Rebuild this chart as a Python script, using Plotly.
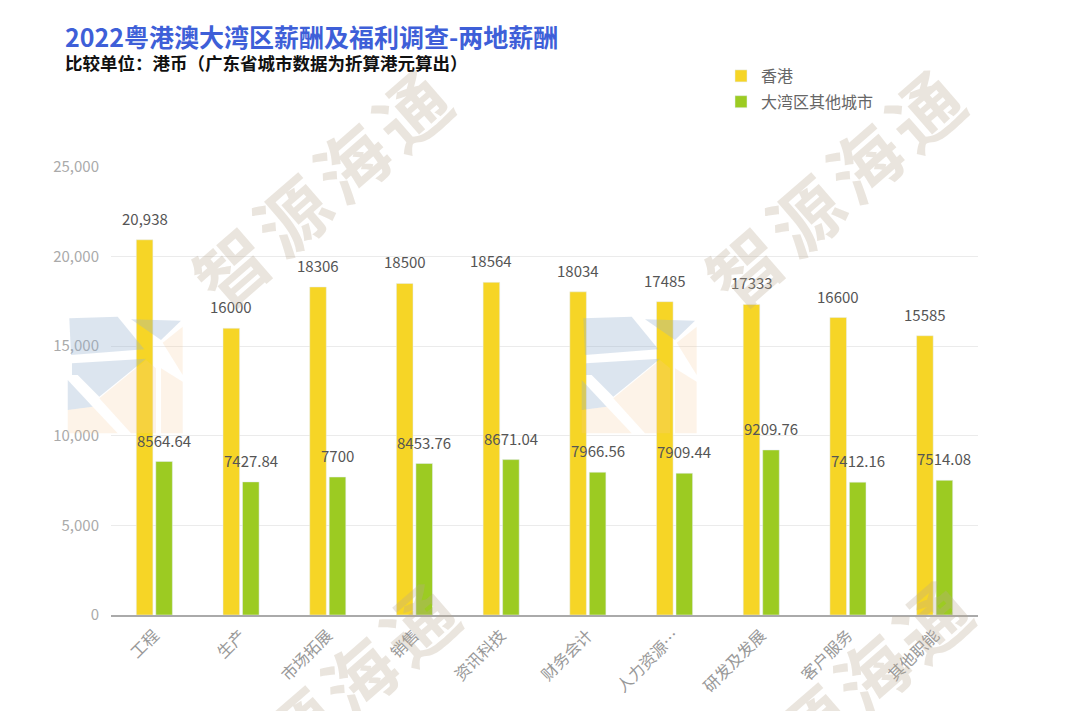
import plotly.graph_objects as go

categories = ["工程", "生产", "市场拓展", "销售", "资讯科技", "财务会计", "人力资源…", "研发及发展", "客户服务", "其他职能"]
hk_values = [20938, 16000, 18306, 18500, 18564, 18034, 17485, 17333, 16600, 15585]
gba_values = [8564.64, 7427.84, 7700, 8453.76, 8671.04, 7966.56, 7909.44, 9209.76, 7412.16, 7514.08]
hk_labels = ["20,938", "16000", "18306", "18500", "18564", "18034", "17485", "17333", "16600", "15585"]
gba_labels = ["8564.64", "7427.84", "7700", "8453.76", "8671.04", "7966.56", "7909.44", "9209.76", "7412.16", "7514.08"]
series_names = ["香港", "大湾区其他城市"]
y_ticks = [0, 5000, 10000, 15000, 20000, 25000]

W, H = 1080, 711
OFF = 8  # page body margin
ML, MT = 111 - OFF, 167 - OFF
PW, PH = 867, 448
MR = W - ML - PW
MB = H - MT - PH

def px(x):  # screenshot pixel -> paper
    return (x - OFF - ML) / PW

def py(y):
    return (MT + PH - (y - OFF)) / PH

FONT = "Noto Sans CJK SC"
YELLOW = "#F6D526"
GREEN = "#9CCB22"

fig = go.Figure()
fig.add_trace(go.Bar(name=series_names[0], x=categories, y=hk_values, marker_color=YELLOW, legendgroup="a"))
fig.add_trace(go.Bar(name=series_names[1], x=categories, y=gba_values, marker_color=GREEN, legendgroup="b"))

annotations = []
for i, c in enumerate(categories):
    annotations.append(dict(x=c, y=hk_values[i], text=hk_labels[i], xref="x", yref="y",
                            showarrow=False, yanchor="bottom", xshift=-9.75, yshift=9,
                            font=dict(family=FONT, size=15, color="#555555")))
    annotations.append(dict(x=c, y=gba_values[i], text=gba_labels[i], xref="x", yref="y",
                            showarrow=False, yanchor="bottom", xshift=9.75, yshift=9,
                            font=dict(family=FONT, size=15, color="#555555")))

# title & subtitle
annotations.append(dict(text="<b>2022粤港澳大湾区薪酬及福利调查-两地薪酬</b>", x=px(63), y=py(36),
                        xref="paper", yref="paper", xanchor="left", yanchor="middle", showarrow=False,
                        font=dict(family=FONT, size=25, color="#3E5FD8")))
annotations.append(dict(text="<b>比较单位：港币（广东省城市数据为折算港元算出）</b>", x=px(63), y=py(63),
                        xref="paper", yref="paper", xanchor="left", yanchor="middle", showarrow=False,
                        font=dict(family=FONT, size=17.5, color="#111111")))

# watermark text
wm_chars = ["智", "源", "海", "通"]
wm_starts = [(230, 265), (743, 265), (237, 778), (750, 775)]
for sx, sy in wm_starts:
    for k, ch in enumerate(wm_chars):
        annotations.append(dict(text="<b>" + ch + "</b>", x=px(sx + 60 * k), y=py(sy - 52 * k),
                                xref="paper", yref="paper", xanchor="center", yanchor="middle",
                                showarrow=False, textangle=-41,
                                font=dict(family=FONT, size=72, color="rgba(185,170,145,0.30)")))

# logo shapes (decorative watermark), coordinates in px relative to logo box
logo_blue = [
    [(1.3, 1.3), (49.7, -0.3), (76.3, 32.3), (3, 38)],
    [(63, 2.3), (113, 3.7), (93, 23)],
    [(4, 46.3), (78, 41.7), (31.3, 79.7), (9.7, 58), (4, 58)],
    [(-0.3, 63), (24.7, 89.7), (-0.3, 93)],
]
logo_orange = [
    [(94.7, 25.7), (114.7, 9.7), (114.7, 58)],
    [(31.3, 81.3), (78, 43), (88, 51.3), (88, 116.3), (63, 116.3)],
    [(93, 51.3), (114.7, 64.7), (114.7, 116.3), (93, 116.3)],
    [(-0.3, 93), (24.7, 89.7), (49.7, 116.3), (-0.3, 116.3)],
]
shapes = []
for ox in (68, 582):
    oy = 317
    for polys, col in ((logo_blue, "rgba(150,175,205,0.33)"), (logo_orange, "rgba(245,200,150,0.22)")):
        for poly in polys:
            pts = [(px(ox + u), py(oy + v)) for u, v in poly]
            path = "M " + " L ".join(f"{a:.4f},{b:.4f}" for a, b in pts) + " Z"
            shapes.append(dict(type="path", path=path, xref="paper", yref="paper",
                               fillcolor=col, line=dict(width=0), layer="above"))

fig.update_layout(
    width=W, height=H,
    margin=dict(l=ML, r=MR, t=MT, b=MB, autoexpand=False),
    paper_bgcolor="white", plot_bgcolor="white",
    barmode="group", bargap=0.55, bargroupgap=0.15,
    font=dict(family=FONT, size=14, color="#999999"),
    showlegend=True,
    legend=dict(x=px(721), y=py(59), xanchor="left", yanchor="top", orientation="v",
                font=dict(family=FONT, size=16, color="#666666"), bgcolor="rgba(0,0,0,0)",
                tracegroupgap=2),
    annotations=annotations,
    shapes=shapes,
    xaxis=dict(tickangle=-45, showline=True, linecolor="#AAAAAA", linewidth=1.5,
               showgrid=False, ticks="outside", ticklen=3, tickcolor="rgba(0,0,0,0)",
               tickfont=dict(family=FONT, size=16, color="#999999")),
    yaxis=dict(range=[0, 25000], tickvals=y_ticks, tickformat=",", showgrid=True,
               gridcolor="#EBEBEB", gridwidth=1, zeroline=False, showline=False,
               ticks="outside", ticklen=8, tickcolor="rgba(0,0,0,0)",
               tickfont=dict(family=FONT, size=15, color="#AAAAAA")),
)

fig.write_html("out.html")
